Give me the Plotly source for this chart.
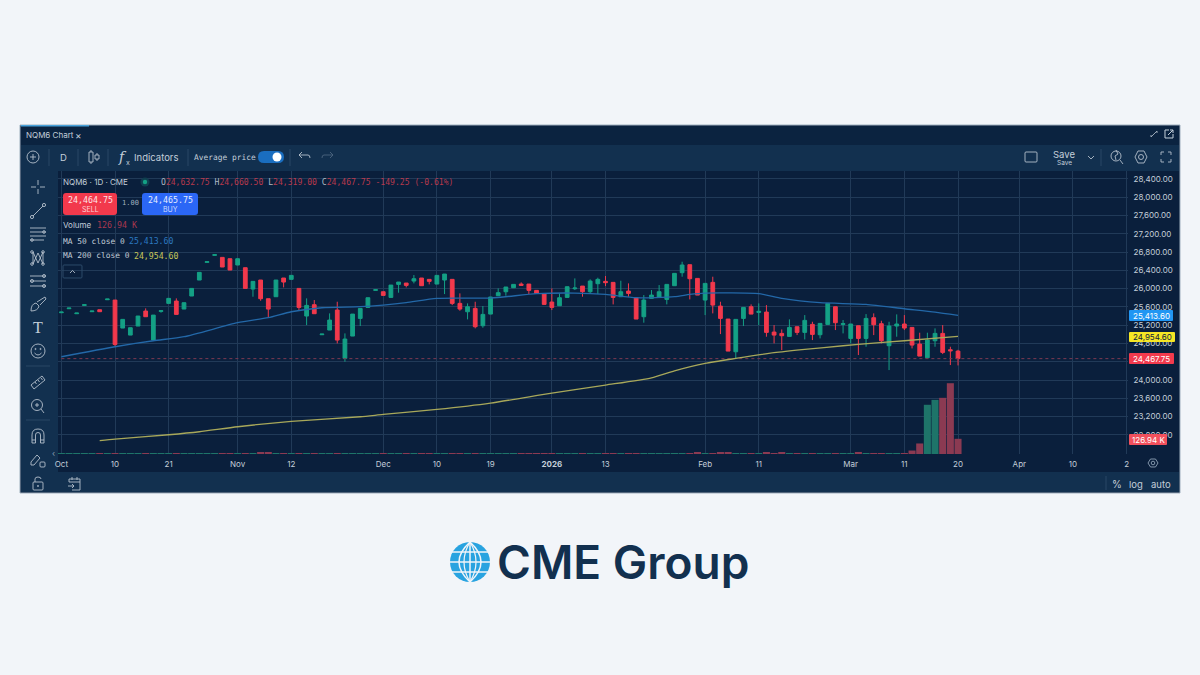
import re
import plotly.graph_objects as go

# ---------- DATA ----------
bar_index = list(range(-7, 111))
open_ = [25473,25560,25451,25633,25495,25538,25757,
 25750,25137,24983,25181,25509,24874,25502,25677,25728,25553,
 25838,26188,26575,26728,26684,26655,26517,26458,25991,26188,
 25779,25823,26232,26203,26005,25400,25648,24991,25093,25531,
 24473,24962,25348,25589,25962,25932,25808,26093,26122,26166,
 26232,26203,26100,26188,26203,25677,25494,25567,25188,25443,
 25845,25932,26020,26100,26100,25962,25889,25706,25626,25808,
 25998,26056,25932,26108,26159,26137,25823,25947,25801,25385,
 25786,25816,25764,26064,26349,26524,26224,25750,26137,25618,
 25334,24618,25348,25604,25480,25487,25049,25020,24954,25166,
 25042,25217,24991,25217,25604,25217,24910,25188,24910,25363,
 25232,24750,25181,25225,25151,24786,24487,24859,25020,24662,24632.75]
high = [25487,25575,25465,25648,25509,25538,25772,
 25750,25327,25144,25400,25568,25421,25531,25787,25787,25692,
 26005,26356,26589,26743,26684,26655,26655,26458,26159,26188,
 25779,26188,26232,26290,26005,25787,25750,25005,25458,25713,
 25020,25443,25567,25801,25976,25932,26078,26144,26122,26297,
 26232,26203,26290,26319,26203,25896,25677,25713,25619,25816,
 26005,26035,26093,26137,26100,25962,25889,26005,25896,26042,
 26224,26056,26203,26239,26276,26137,26173,26115,25801,25859,
 25969,26078,26093,26334,26589,26524,26224,26115,26261,25713,
 25334,25327,25589,25655,25677,25640,25202,25107,25327,25166,
 25421,25275,25239,25677,25604,25312,25225,25188,25443,25458,
 25297,25275,25436,25421,25151,25035,25035,25130,25202,24728,24660.5]
low = [25473,25560,25451,25633,25495,25495,25757,
 24743,25137,24983,25181,25385,24874,25473,25677,25436,25553,
 25838,26188,26575,26728,26473,26407,26517,26005,25823,25735,
 25363,25823,26027,26203,25531,25202,25451,24991,25093,24801,
 24400,24962,25181,25589,25962,25852,25808,25911,26027,26115,
 26064,26093,26100,25881,25640,25516,25327,25130,25144,25443,
 25845,25845,26020,26071,25881,25896,25655,25531,25626,25808,
 25969,25823,25896,25881,26056,25655,25823,25823,25334,25254,
 25786,25816,25655,26064,26261,25764,25859,25421,25458,25005,
 24633,24473,25181,25443,25202,24947,24801,24655,24954,24983,
 24888,24874,24910,25217,25093,25020,24801,24546,24728,24983,
 24801,24217,24947,25093,24691,24523,24487,24728,24567,24327,24319]
close = [25487,25575,25465,25648,25509,25495,25772,
 24779,25327,25144,25400,25385,25421,25516,25787,25436,25692,
 26005,26356,26589,26743,26473,26407,26655,26005,26159,25779,
 25553,26188,26144,26290,25589,25633,25451,25005,25312,24874,
 24896,25443,25567,25801,25976,25852,26078,26144,26071,26217,
 26064,26159,26290,26319,25677,25553,25604,25166,25436,25816,
 25911,26035,26093,26071,25962,25896,25655,25589,25801,26042,
 26013,25932,26166,26203,26130,25808,25932,25896,25334,25750,
 25859,25932,26093,26334,26517,26217,25859,26115,25640,25348,
 24633,25327,25589,25443,25502,25042,24983,24969,25151,25042,
 25305,24998,25239,25677,25254,25232,25225,24910,25348,25210,
 24859,25181,25225,25137,24764,24523,24874,25020,24604,24640,24467.75]
volume_k = [3,3,3,3,3,6,3,
 7,4,4,4,7,5,3,4,7,4,4,4,3,3,8,8,4,7,4,9,9,4,6,4,7,4,7,3,4,6,
 5,4,4,4,3,6,4,4,6,4,7,6,4,4,7,8,4,6,4,4,4,4,4,6,7,7,8,8,4,4,
 3,7,4,4,7,7,4,7,7,5,4,4,4,4,4,8,9,5,6,9,9,6,5,6,4,9,8,9,4,6,
 4,6,4,5,7,4,5,17,5,8,8,6,5,6,29,88,411,452,469,591,126.94]

ma50_x = [-7,0,5,9,16,20,23,27,32,35,38,42,49,55,60,64,68,73,75,77,84,87,92,98,103,107,110]
ma50_y = [24509,24728,24859,24947,25254,25363,25494,25582,25604,25640,25692,25786,25794,
          25889,25903,25874,25801,25823,25874,25903,25889,25786,25692,25655,25560,25487,25413.6]
ma200_x = [-2,0,7,11,16,23,32,35,42,49,57,64,70,73,77,81,86,90,95,99,103,110]
ma200_y = [22671,22706,22801,22867,22976,23093,23195,23246,23356,23494,23713,23888,24049,
           24202,24363,24472,24597,24670,24750,24808,24859,24954.6]

y_ticks = [28400,28000,27600,27200,26800,26400,26000,25600,25200,24800,24400,24000,23600,23200,22800]
y_tick_txt = ["28,400.00","28,000.00","27,600.00","27,200.00","26,800.00","26,400.00","26,000.00","25,600.00",
              "25,200.00","24,800.00","","24,000.00","23,600.00","23,200.00","22,800.00"]
x_tick_pos = [-7,0,7,16,23,35,42,49,57,64,77,84,96,103,110,118,125,132]
x_tick_txt = ["Oct","10","21","Nov","12","Dec","10","19","<b>2026</b>","13","Feb","11","Mar","11","20","Apr","10","2"]

# ---------- COLOURS ----------
BG = "#f2f5f9"; CHART = "#0a1f3c"; BAR = "#12304f"; TAB = "#0b2340"; GRID = "#213a58"
ICON = "#b4c0cc"; TXT = "#c3ced9"; UP = "#14a085"; DN = "#f2394c"
UPV = "#1e7469"; DNV = "#8b3a52"
MONO = "DejaVu Sans Mono"; SANS = "Inter"

X = lambda x: x / 1200
Y = lambda y: 1 - y / 675
shapes, notes = [], []

def P(s):
    toks = re.findall(r"[A-Za-z]|-?\d+\.?\d*", s)
    out, is_x = [], True
    for t in toks:
        if t.isalpha():
            out.append(t); is_x = True
        else:
            out.append(f"{X(float(t)):.5f}" if is_x else f"{Y(float(t)):.5f}")
            is_x = not is_x
    return " ".join(out)

def path(s, color=ICON, w=0.9, fill=None, layer="above"):
    shapes.append(dict(type="path", xref="paper", yref="paper", path=P(s), layer=layer,
                       line=dict(color=color, width=w), fillcolor=fill or "rgba(0,0,0,0)"))

def rect(x0, y0, x1, y1, fill, line=None, w=0, layer="below"):
    shapes.append(dict(type="rect", xref="paper", yref="paper", x0=X(x0), x1=X(x1), y0=Y(y0), y1=Y(y1),
                       fillcolor=fill, layer=layer, line=dict(color=line or fill, width=w)))

def rrect(x0, y0, x1, y1, r, fill=None, line=None, w=0):
    s = (f"M {x0+r} {y0} L {x1-r} {y0} Q {x1} {y0} {x1} {y0+r} L {x1} {y1-r} Q {x1} {y1} {x1-r} {y1} "
         f"L {x0+r} {y1} Q {x0} {y1} {x0} {y1-r} L {x0} {y0+r} Q {x0} {y0} {x0+r} {y0} Z")
    path(s, line or "rgba(0,0,0,0)", w, fill)

def circ(cx, cy, r, line=ICON, w=0.9, fill=None):
    shapes.append(dict(type="circle", xref="paper", yref="paper", x0=X(cx-r), x1=X(cx+r), y0=Y(cy-r), y1=Y(cy+r),
                       line=dict(color=line, width=w), fillcolor=fill or "rgba(0,0,0,0)", layer="above"))

def seg(x0, y0, x1, y1, color=ICON, w=0.9):
    path(f"M {x0} {y0} L {x1} {y1}", color, w)

def text(x, y, s, size=9, color=TXT, family=SANS, anchor="left", weight=None):
    f = dict(size=size, color=color, family=family)
    if weight: f["weight"] = weight
    notes.append(dict(xref="paper", yref="paper", x=X(x), y=Y(y), text=s, showarrow=False, font=f,
                      xanchor=anchor, yanchor="middle", borderpad=0, borderwidth=0))

# ---------- CHROME ----------
rect(20, 125, 1180, 493, CHART, "#9fb0bf", 1)
rect(21, 126, 1179, 145, TAB)
rect(21, 145, 1179, 171, BAR)
rect(21, 171, 58, 472, BAR)
rect(21, 472, 1179, 492, BAR)
rect(21, 125, 89, 126.5, "#49a3dc")
for xs in (49, 78, 108, 188, 290, 1101):
    seg(xs, 149, xs, 166, "#2c4a69")
for ys in (366, 420):
    seg(26, ys, 50, ys, "#2c4a69")
seg(1106, 476, 1106, 490, "#2c4a69")

text(26, 135, "NQM6 Chart", 8, TXT)
text(79, 135, "×", 10, TXT, anchor="center")
seg(1151, 137, 1157, 131, "#a9b6c3"); seg(1151, 137, 1151, 135, "#a9b6c3"); seg(1157, 131, 1157, 133, "#a9b6c3")
path("M 1169 130 L 1165 130 L 1165 138 L 1173 138 L 1173 134 M 1168 135 L 1173 130 M 1170 130 L 1173 130 L 1173 133", "#c5d0db", 1)

circ(33, 157, 6)
seg(30, 157, 36, 157); seg(33, 154, 33, 160)
text(63, 157, "D", 9.5, TXT, anchor="center")
seg(91, 150, 91, 164); rect(89, 152, 93, 162, BAR, ICON, 0.9, layer="above")
seg(97, 153, 97, 161); rect(95, 155, 99, 159, BAR, ICON, 0.9, layer="above")
text(123, 157, "<i>f</i>", 14, TXT, "DejaVu Serif", "center")
text(128, 162, "x", 7, TXT, anchor="center")
text(134, 157, "Indicators", 9.5, TXT)
text(194, 157, "Average price", 7.9, TXT, MONO)
rrect(258, 151, 284, 163, 6, "#1a6ec0")
circ(277, 157, 4.5, "#ffffff", 0, "#ffffff")
path("M 299 155 L 308 155 Q 310 155 310 158 M 299 155 L 302 152 M 299 155 L 302 158", ICON)
path("M 333 155 L 324 155 Q 322 155 322 158 M 333 155 L 330 152 M 333 155 L 330 158", "#4d6580")
rrect(1025, 152, 1037, 162, 1, None, ICON, 0.9)
text(1064, 154, "Save", 9.5, TXT, anchor="center")
text(1064, 163, "Save", 6.5, TXT, anchor="center")
path("M 1088 156 L 1091 159 L 1094 156", ICON)
circ(1116, 156, 5)
seg(1120, 160, 1123, 164); seg(1116, 150, 1118, 154); seg(1118, 154, 1115, 156); seg(1115, 156, 1116, 160)
path("M 1135 157 L 1138 151 L 1144 151 L 1147 157 L 1144 163 L 1138 163 Z", ICON)
circ(1141, 157, 2.5)
path("M 1161 155 L 1161 152 L 1164 152 M 1168 152 L 1171 152 L 1171 155 M 1171 159 L 1171 162 L 1168 162 M 1164 162 L 1161 162 L 1161 159", ICON)

seg(31, 187, 36, 187); seg(40, 187, 45, 187); seg(38, 180, 38, 185); seg(38, 189, 38, 194)
seg(33, 216, 43, 206); circ(32, 217, 1.6); circ(44, 205, 1.6)
for yy in (228, 232, 236):
    seg(30, yy, 46, yy)
seg(30, 240, 44, 240); circ(32, 240, 1.3); circ(44, 232, 1.3)
path("M 33 252 L 38 263 L 43 252 M 33 264 L 38 253 L 43 264 M 33 252 L 33 264 M 43 252 L 43 264", ICON)
for a, b in ((32, 252), (43, 252), (32, 264), (43, 264)):
    circ(a, b, 1.3)
for yy, cx in ((276, 44), (281, 32), (286, 44)):
    seg(30, yy, 46, yy); circ(cx, yy, 1.5)
path("M 31 311 Q 31 304 36 303 L 39 306 Q 38 311 31 311 Z M 37 302 L 45 297 L 46 299 L 40 305", ICON)
text(38, 327, "T", 16, TXT, "Liberation Serif", "center")
circ(38, 351, 7)
circ(35.5, 349, 0.6); circ(40.5, 349, 0.6)
path("M 34.5 353 Q 38 357 41.5 353", ICON)
path("M 31 385 L 42 376 L 45 380 L 34 389 Z M 35 382 L 36.5 384 M 38 380 L 39.5 382 M 41 378 L 42.5 380", ICON)
circ(37, 405, 5.5); seg(41, 409, 44, 413); seg(35, 405, 39, 405); seg(37, 403, 37, 407)
path("M 32 443 L 32 435 Q 32 429 38 429 Q 44 429 44 435 L 44 443 L 40.5 443 L 40.5 435 Q 40.5 432.5 38 432.5 Q 35.5 432.5 35.5 435 L 35.5 443 Z M 32 440 L 35.5 440 M 40.5 440 L 44 440", ICON)
path("M 31 462 L 37 455 L 40 458 L 34 465 L 31 465 Z", ICON)
rrect(40, 462, 45, 467, 1, None, ICON, 0.9)
text(53, 453, "‹", 8, "#8ea2b6", anchor="center")
rrect(33, 482, 43, 490, 1, None, ICON, 0.9); path("M 35 482 L 35 479 Q 35 477 38 477 Q 41 477 41 479", ICON); circ(38, 486, 0.6)
path("M 69 482 L 69 479 L 80 479 L 80 490 L 72 490 M 69 482 L 80 482 M 72 477 L 72 480 M 77 477 L 77 480 M 68 486 L 74 486 M 72 484 L 74 486 L 72 488", ICON)
text(1117, 484, "%", 10, TXT, anchor="center")
text(1136, 484, "log", 9.5, TXT, anchor="center")
text(1161, 484, "auto", 9.5, TXT, anchor="center")
path("M 1148 463 L 1150.5 459 L 1155.5 459 L 1158 463 L 1155.5 467 L 1150.5 467 Z", "#8ea2b6")
circ(1153, 463, 1.8, "#8ea2b6")

R = "#b8394c"
text(63, 182, "NQM6 · 1D · CME", 8, TXT)
circ(145, 182, 4.5, "#0f3f4f", 0, "#0f3f4f")
circ(145, 182, 2.2, UP, 0, UP)
s = lambda c, t: f'<span style="color:{c}">{t}</span>'
G = "#aeb9c5"
text(161, 182, s(G, "O") + s(R, "24,632.75 ") + s(G, "H") + s(R, "24,660.50 ") + s(G, "L") + s(R, "24,319.00 ") +
     s(G, "C") + s(R, "24,467.75 -149.25 (-0.61%)"), 8.1, R, MONO)
rrect(63, 193, 117, 215, 3, DN)
text(90, 199.5, "24,464.75", 8.3, "#ffe3e6", MONO, "center")
text(90, 209, "SELL", 7, "#ffd0d5", SANS, "center")
text(130, 203, "1.00", 7, "#9fb0bf", MONO, "center")
rrect(142, 193, 198, 215, 3, "#2b67f6")
text(170, 199.5, "24,465.75", 8.3, "#e3ecff", MONO, "center")
text(170, 209, "BUY", 7, "#cfdcff", SANS, "center")
text(63, 225, "Volume", 8, TXT)
text(97, 225, "126.94 K", 8.3, "#a8384f", MONO)
text(63, 241, "MA 50 close 0", 7.9, TXT, MONO)
text(129, 241, "25,413.60", 8.2, "#2a78c0", MONO)
text(63, 256, "MA 200 close 0", 7.9, TXT, MONO)
text(134, 256, "24,954.60", 8.2, "#c7c75a", MONO)
rrect(63, 265, 82, 278, 1, None, "#2c4a69", 1)
path("M 70 273 L 72.5 270.5 L 75 273", ICON)

rrect(1129, 310, 1173, 321, 1, "#2196f3")
text(1151, 315.5, "25,413.60", 8, "#ffffff", SANS, "center")
rrect(1129, 332, 1175, 342, 1, "#f5e625")
text(1152, 337, "24,954.60", 8, "#10233c", SANS, "center")
rrect(1129, 353, 1174, 364, 1, "#f23a4d")
text(1151.5, 358.5, "24,467.75", 8, "#ffffff", SANS, "center")
rrect(1129, 434, 1167, 445, 1, "#f2505c")
text(1148, 439.5, "126.94 K", 8, "#ffffff", SANS, "center")

circ(470, 562, 20, "#29a3e0", 0, "#29a3e0")
W = "#f2f5f9"
for yy in (552, 562, 572):
    seg(450, yy, 490, yy, W, 1.5)
seg(470, 542, 470, 582, W, 1.5)
path("M 470 542 Q 448 562 470 582 M 470 542 Q 492 562 470 582", W, 1.5)
path("M 470 542 Q 458 562 470 582 M 470 542 Q 482 562 470 582", W, 1.2)
text(497, 562, "CME Group", 46, "#12304f", SANS, weight=600)

# ---------- FIGURE ----------
fig = go.Figure()
fig.add_trace(go.Bar(
    x=bar_index, y=[v * 1000 for v in volume_k], yaxis="y2", name="Volume",
    marker=dict(color=[UPV if c >= o else DNV for o, c in zip(open_, close)], line=dict(width=0))))
fig.add_trace(go.Scatter(x=[bar_index[0], 132.2], y=[close[-1], close[-1]], mode="lines", name="Last",
                         line=dict(color="#7c3a52", width=1, dash="dot")))
fig.add_trace(go.Candlestick(
    x=bar_index, open=open_, high=high, low=low, close=close, name="NQM6", whiskerwidth=0,
    increasing=dict(line=dict(color=UP, width=1), fillcolor=UP),
    decreasing=dict(line=dict(color=DN, width=1), fillcolor=DN)))
fig.add_trace(go.Scatter(x=ma50_x, y=ma50_y, mode="lines", name="MA 50",
                         line=dict(color="#2368a8", width=1.3, shape="spline", smoothing=0.6)))
fig.add_trace(go.Scatter(x=ma200_x, y=ma200_y, mode="lines", name="MA 200",
                         line=dict(color="#a8a85a", width=1.3, shape="spline", smoothing=0.6)))

fig.update_layout(
    width=1200, height=675, margin=dict(l=0, r=0, t=0, b=0, autoexpand=False),
    paper_bgcolor=BG, plot_bgcolor=CHART, showlegend=False, bargap=0.08, boxgap=0.3,
    font=dict(family=SANS, color=TXT), shapes=shapes, annotations=notes, hovermode=False,
    xaxis=dict(domain=[X(58), X(1128)], range=[-7.44, 132.18], rangeslider=dict(visible=False),
               tickmode="array", tickvals=x_tick_pos, ticktext=x_tick_txt, tickfont=dict(size=8, color=TXT),
               showgrid=True, gridcolor=GRID, gridwidth=1, zeroline=False, showline=False,
               ticks="outside", ticklen=2, tickcolor="rgba(0,0,0,0)"),
    yaxis=dict(domain=[Y(454), Y(171)], range=[22380, 28575], side="right", tickmode="array", tickvals=y_ticks,
               ticktext=y_tick_txt, tickfont=dict(size=8, color=TXT), showgrid=True, gridcolor=GRID, gridwidth=1,
               zeroline=False, showline=False, ticks="outside", ticklen=3, tickcolor="rgba(0,0,0,0)"),
    yaxis2=dict(domain=[Y(454), Y(171)], range=[0, 2363000], overlaying="y", visible=False, showgrid=False),
)
fig.write_html("out.html", config={"displayModeBar": False},
               post_script="document.body.style.margin='0';document.body.style.overflow='hidden';")
